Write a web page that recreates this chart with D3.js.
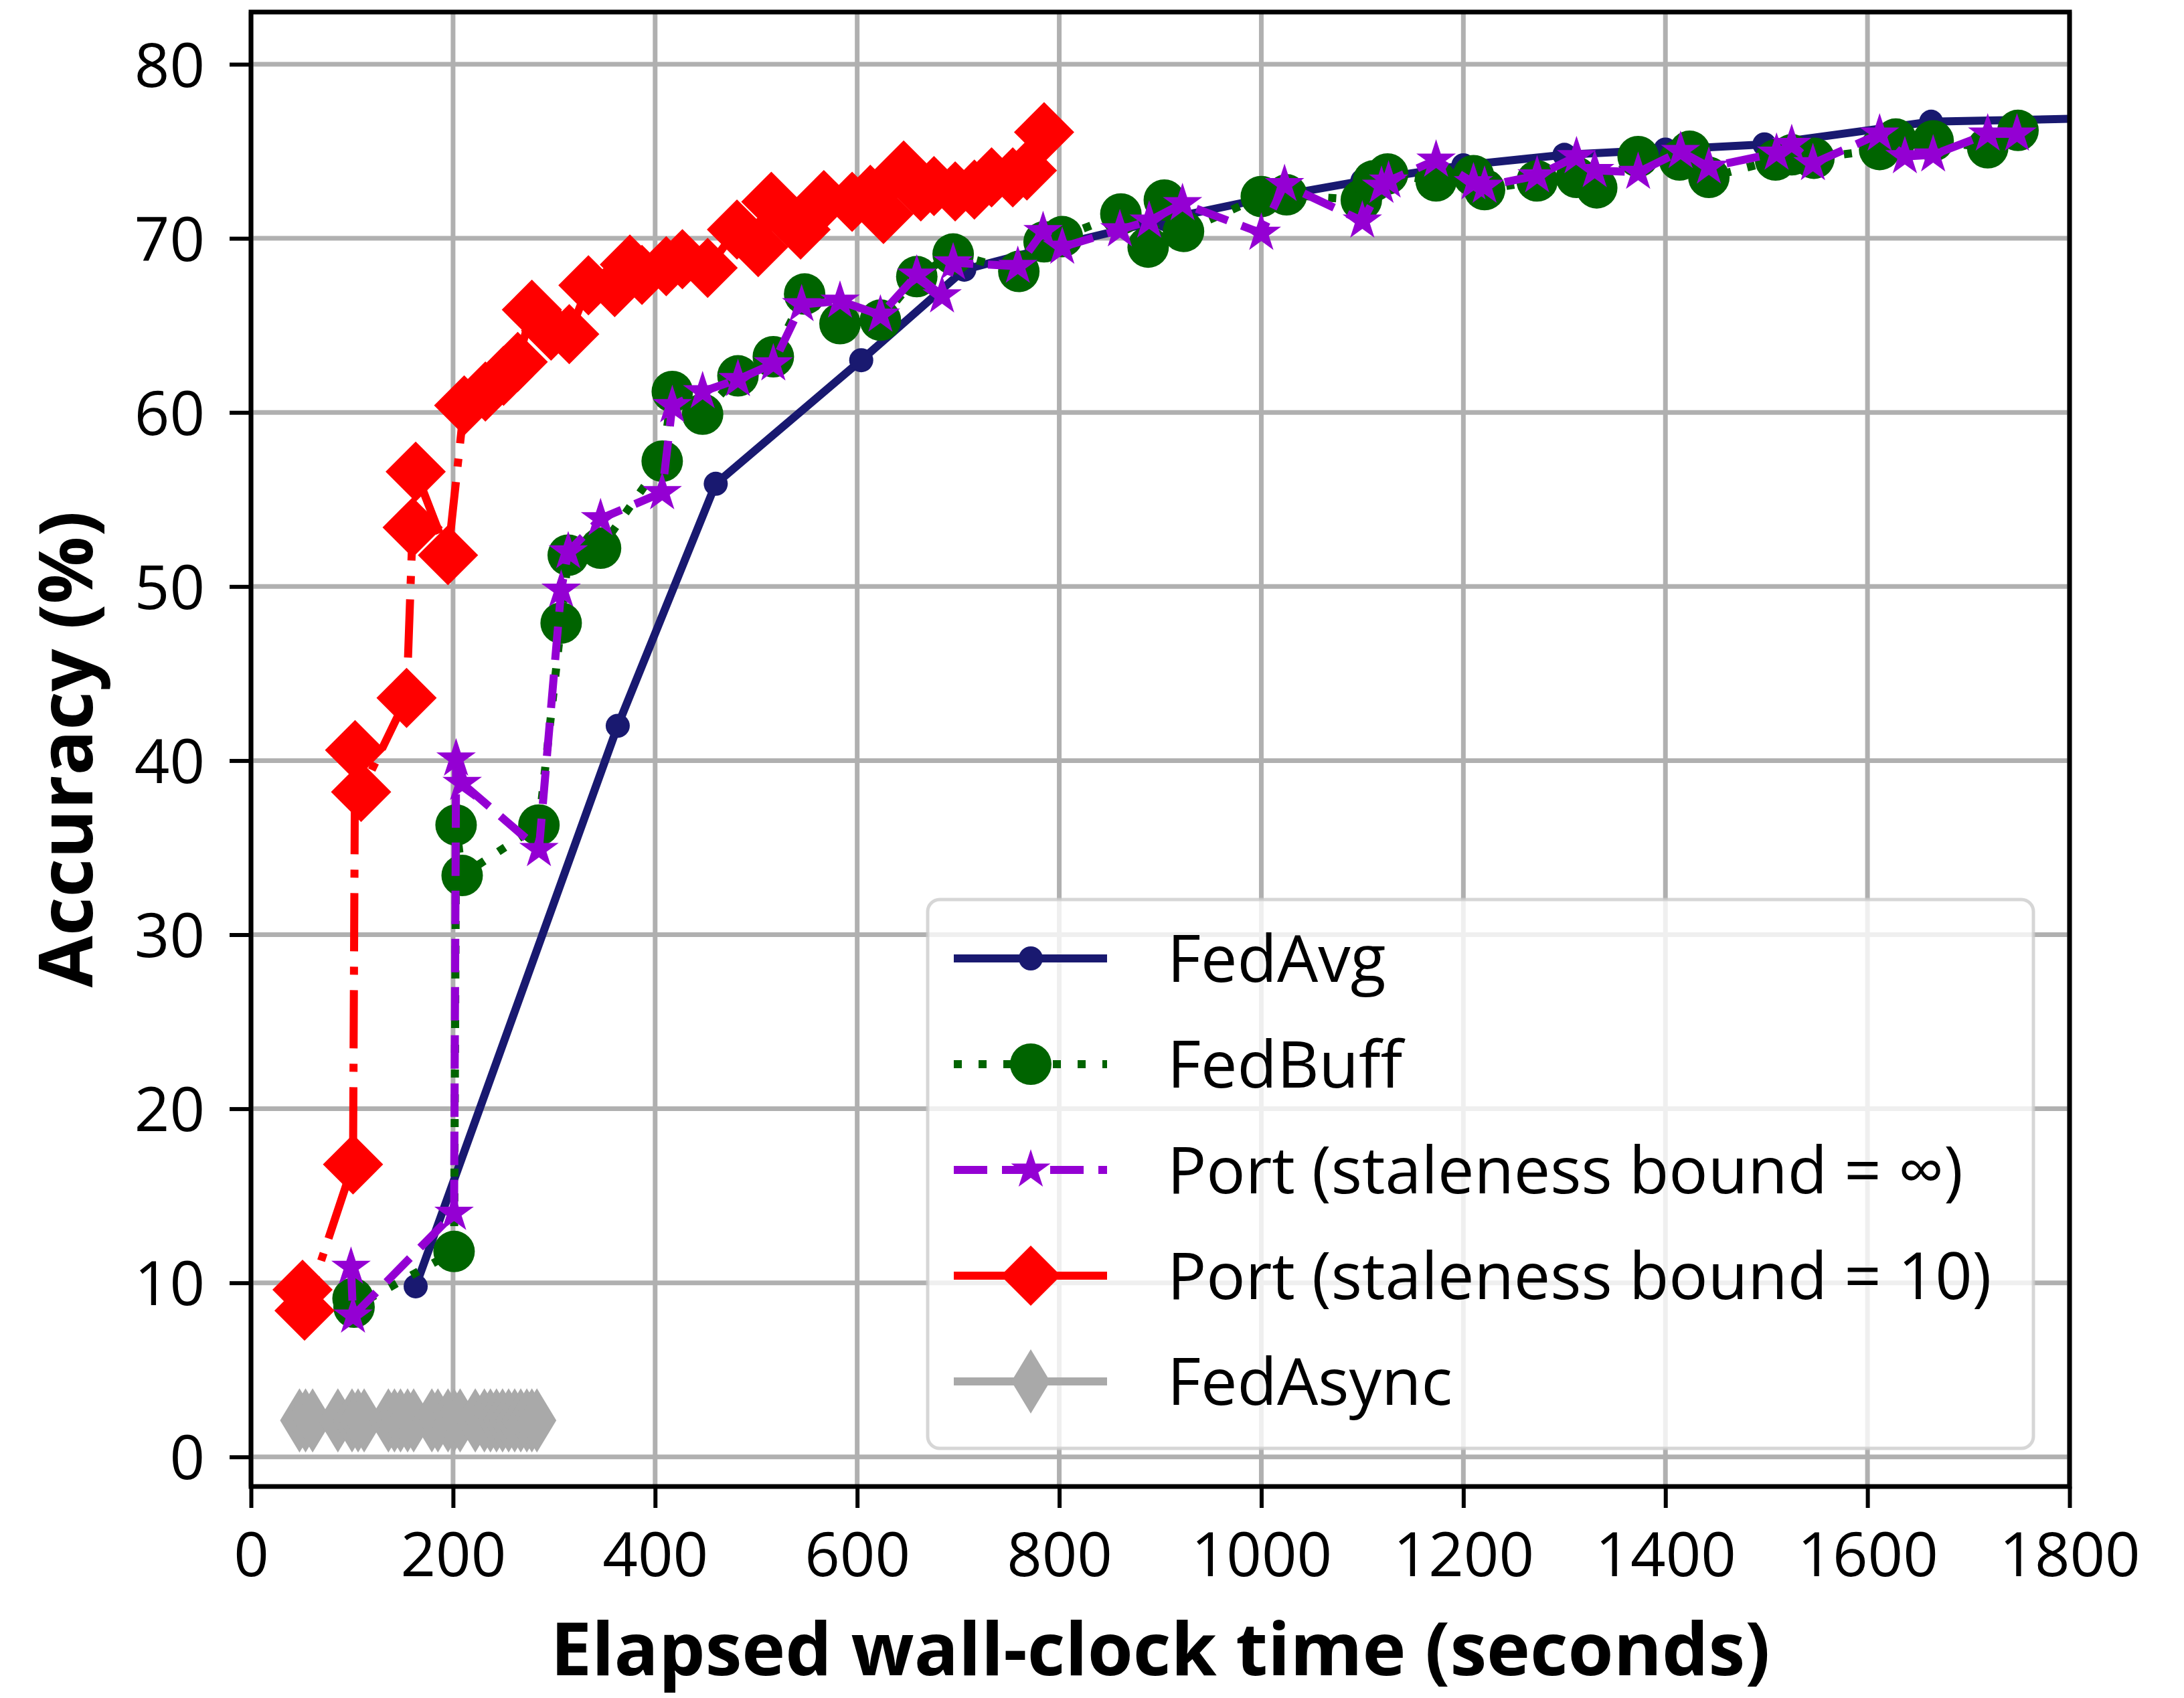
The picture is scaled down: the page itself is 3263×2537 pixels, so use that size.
<!DOCTYPE html>
<html>
<head>
<meta charset="utf-8">
<script src="https://cdn.jsdelivr.net/npm/d3@7"></script>
<style>
  body { margin: 0; background: #fff; }
  text { font-family: "Open Sans", "Noto Sans", sans-serif; fill: #000; }
</style>
</head>
<body>
<div id="plot"></div>
<script>
// ---- data: [elapsed seconds, accuracy %] ----
const fedAvg = [[163, 9.8], [363, 42.0], [460, 55.9], [604, 63.0], [706, 68.2], [805, 69.7],
  [905, 71.1], [1003, 72.3], [1100, 73.3], [1200, 74.2], [1300, 74.8], [1400, 75.1],
  [1498, 75.4], [1663, 76.7], [1830, 76.9]];

const fedBuff = [[101, 9.1], [102, 8.6], [201, 11.8], [203, 36.3], [209, 33.4], [285, 36.3],
  [307, 47.9], [314, 51.8], [346, 52.2], [407, 57.2], [417, 61.2], [447, 59.9], [482, 62.1],
  [517, 63.2], [548, 66.8], [583, 65.1], [623, 65.3], [659, 67.8], [695, 69.1], [760, 68.1],
  [785, 69.8], [803, 70.1], [861, 71.4], [888, 69.5], [904, 72.2], [923, 70.4], [1000, 72.4],
  [1025, 72.5], [1099, 72.2], [1111, 73.3], [1125, 73.7], [1173, 73.3], [1210, 73.6],
  [1221, 72.8], [1273, 73.3], [1312, 73.5], [1332, 72.9], [1373, 74.7], [1414, 74.5],
  [1424, 75.0], [1443, 73.5], [1509, 74.5], [1525, 74.8], [1547, 74.6], [1612, 75.1],
  [1628, 75.7], [1665, 75.6], [1719, 75.2], [1749, 76.2]];

const portInf = [[99, 10.9], [101, 8.1], [201, 14.0], [203, 40.1], [209, 38.7], [285, 34.9],
  [307, 49.8], [314, 52.0], [346, 53.9], [407, 55.4], [417, 60.4], [447, 61.2], [482, 61.9],
  [517, 62.8], [545, 66.2], [583, 66.4], [623, 65.6], [659, 67.9], [684, 66.7], [695, 68.6],
  [759, 68.4], [784, 70.4], [803, 69.5], [860, 70.5], [889, 71.0], [922, 72.0], [1000, 70.3],
  [1023, 73.1], [1100, 71.0], [1119, 73.0], [1126, 73.3], [1173, 74.5], [1210, 73.2],
  [1221, 73.0], [1273, 73.6], [1312, 74.7], [1330, 73.9], [1373, 73.8], [1415, 75.0],
  [1443, 74.1], [1510, 74.9], [1525, 75.4], [1546, 74.3], [1612, 76.0], [1637, 74.7],
  [1665, 74.8], [1719, 76.0], [1748, 76.0]];

const port10 = [[51, 9.6], [53, 8.4], [101, 16.8], [103, 40.6], [109, 38.2], [154, 43.6],
  [160, 53.4], [163, 56.6], [195, 51.8], [211, 60.4], [232, 61.2], [250, 62.1], [264, 62.9],
  [278, 65.9], [297, 64.7], [315, 64.5], [334, 67.3], [360, 67.2], [375, 68.5], [387, 67.9],
  [411, 68.4], [427, 68.8], [452, 68.3], [481, 70.5], [502, 69.5], [515, 72.1], [544, 70.5],
  [567, 72.2], [595, 72.1], [613, 72.5], [626, 71.4], [646, 73.9], [663, 72.7], [676, 73.0],
  [697, 72.7], [716, 72.8], [733, 73.5], [754, 73.5], [768, 73.9], [785, 76.1]];

const fedAsync = [[48, 2.1], [54, 2.1], [61, 2.1], [86, 2.1], [100, 2.1], [106, 2.1], [112, 2.1],
  [136, 2.1], [142, 2.1], [148, 2.1], [155, 2.1], [161, 2.1], [179, 2.1], [185, 2.1],
  [195, 2.1], [201, 2.1], [207, 2.1], [222, 2.1], [231, 2.1], [237, 2.1], [243, 2.1],
  [249, 2.1], [255, 2.1], [261, 2.1], [267, 2.1], [273, 2.1], [278, 2.1], [283, 2.1]];

const seriesNames = ["FedAvg", "FedBuff", "Port (staleness bound = \u221e)",
  "Port (staleness bound = 10)", "FedAsync"];
const xTicks = [0, 200, 400, 600, 800, 1000, 1200, 1400, 1600, 1800];
const yTicks = [0, 10, 20, 30, 40, 50, 60, 70, 80];
const xLabel = "Elapsed wall-clock time (seconds)";
const yLabel = "Accuracy (%)";

// ---- layout ----
const W = 3263, H = 2537;
const margin = { top: 18, right: 171, bottom: 316, left: 375 };
const plotW = W - margin.left - margin.right,
      plotH = H - margin.top - margin.bottom;
const tickFont = 92, legendFont = 97, labelFont = 110;

const svg = d3.select("#plot").append("svg")
  .attr("width", W)
  .attr("height", H);

const x = d3.scaleLinear().domain([0, 1800]).range([margin.left, margin.left + plotW]);
const y = d3.scaleLinear().domain([-1.7, 83]).range([margin.top + plotH, margin.top]);

// markers
const markers = {
  smallCircle: d3.symbol(d3.symbolCircle, Math.PI * 18 * 18)(),
  bigCircle: d3.symbol(d3.symbolCircle, Math.PI * 31 * 31)(),
  star: d3.symbol(d3.symbolStar, 31 * 31 / 0.8908130915292852)(),
  diamond: "M0,-45L45,0L0,45L-45,0Z",
  thinDiamond: "M0,-48L29,0L0,48L-29,0Z"
};

const series = [
  { data: fedAvg, color: "#191970", dash: null, marker: markers.smallCircle },
  { data: fedBuff, color: "#006400", dash: "12,25", marker: markers.bigCircle },
  { data: portInf, color: "#9400D3", dash: "50,22", marker: markers.star },
  { data: port10, color: "#ff0000", dash: "87,23,12,23", marker: markers.diamond },
  { data: fedAsync, color: "#a9a9a9", dash: null, marker: markers.thinDiamond }
].map((s, i) => ({ ...s, name: seriesNames[i] }));

svg.append("defs").append("clipPath").attr("id", "clip")
  .append("rect")
  .attr("x", margin.left).attr("y", margin.top)
  .attr("width", plotW).attr("height", plotH);

// grid
const grid = svg.append("g").attr("stroke", "#b0b0b0").attr("stroke-width", 7);
grid.selectAll("line.vx").data(xTicks).enter().append("line")
  .attr("x1", d => x(d)).attr("x2", d => x(d))
  .attr("y1", margin.top).attr("y2", margin.top + plotH);
grid.selectAll("line.hy").data(yTicks).enter().append("line")
  .attr("x1", margin.left).attr("x2", margin.left + plotW)
  .attr("y1", d => y(d)).attr("y2", d => y(d));

// series
const line = d3.line().x(d => x(d[0])).y(d => y(d[1]));
const plotArea = svg.append("g").attr("clip-path", "url(#clip)");

series.forEach(s => {
  plotArea.append("path")
    .datum(s.data)
    .attr("d", line)
    .attr("fill", "none")
    .attr("stroke", s.color)
    .attr("stroke-width", 12)
    .attr("stroke-dasharray", s.dash);

  plotArea.selectAll(null)
    .data(s.data)
    .enter()
    .append("path")
    .attr("d", s.marker)
    .attr("transform", d => `translate(${x(d[0])},${y(d[1])})`)
    .attr("fill", s.color);
});

// axes
const xAxis = svg.append("g")
  .attr("transform", `translate(0,${margin.top + plotH})`)
  .call(d3.axisBottom(x).tickValues(xTicks).tickSize(32).tickSizeOuter(0).tickFormat(d3.format("d")));
xAxis.select(".domain").remove();
xAxis.selectAll(".tick line").attr("stroke", "#000").attr("stroke-width", 6);
xAxis.selectAll(".tick text")
  .attr("y", 134).attr("dy", null)
  .style("font-size", tickFont + "px");

const yAxis = svg.append("g")
  .attr("transform", `translate(${margin.left},0)`)
  .call(d3.axisLeft(y).tickValues(yTicks).tickSize(32).tickSizeOuter(0));
yAxis.select(".domain").remove();
yAxis.selectAll(".tick line").attr("stroke", "#000").attr("stroke-width", 6);
yAxis.selectAll(".tick text")
  .attr("x", -69).attr("dy", "0.36em")
  .style("font-size", tickFont + "px");

// frame
svg.append("rect")
  .attr("x", margin.left).attr("y", margin.top)
  .attr("width", plotW).attr("height", plotH)
  .attr("fill", "none")
  .attr("stroke", "#000")
  .attr("stroke-width", 7);

// axis labels
svg.append("text")
  .attr("x", margin.left + plotW / 2)
  .attr("y", 2503)
  .attr("text-anchor", "middle")
  .style("font-size", labelFont + "px")
  .style("font-weight", "bold")
  .text(xLabel);

svg.append("text")
  .attr("transform", `translate(138,${margin.top + plotH / 2}) rotate(-90)`)
  .attr("text-anchor", "middle")
  .style("font-size", "112px")
  .style("font-weight", "bold")
  .text(yLabel);

// legend
const legend = svg.append("g").attr("transform", "translate(1386,1344)");
legend.append("rect")
  .attr("width", 1652).attr("height", 820)
  .attr("rx", 18).attr("ry", 18)
  .attr("fill", "#fff").attr("fill-opacity", 0.8)
  .attr("stroke", "#cccccc").attr("stroke-opacity", 0.8)
  .attr("stroke-width", 5);

const rows = legend.selectAll("g.row")
  .data(series)
  .enter()
  .append("g")
  .attr("transform", (d, i) => `translate(0,${88 + i * 158})`);

rows.append("line")
  .attr("x1", 39).attr("x2", 268)
  .attr("stroke", d => d.color)
  .attr("stroke-width", 12)
  .attr("stroke-dasharray", d => d.dash);

rows.append("path")
  .attr("d", d => d.marker)
  .attr("transform", "translate(154,0)")
  .attr("fill", d => d.color);

rows.append("text")
  .attr("x", 358)
  .attr("dy", "0.36em")
  .style("font-size", legendFont + "px")
  .text(d => d.name);
</script>
</body>
</html>
